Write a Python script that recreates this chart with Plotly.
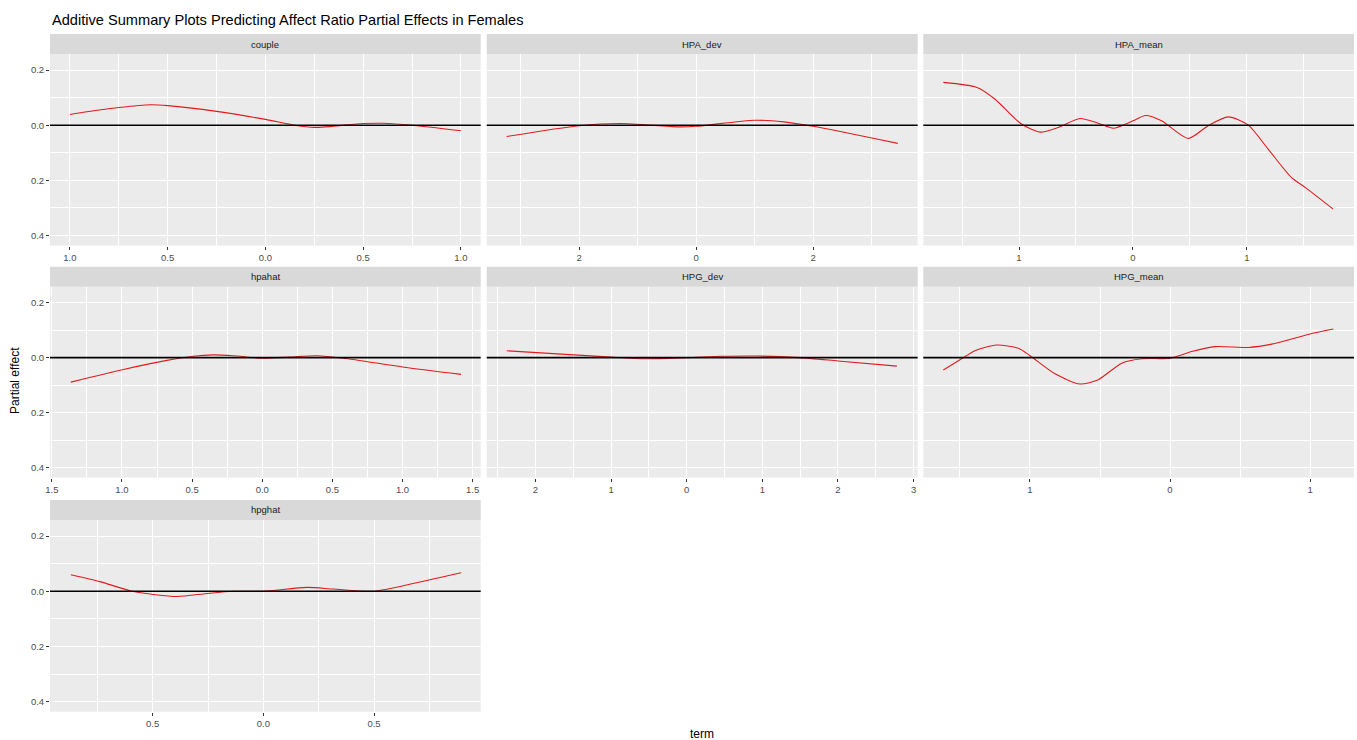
import plotly.graph_objects as go

# ---- data: estimated partial effect curves per term ----
couple_x = [-1.0, -0.85, -0.75, -0.59, -0.5, -0.25, 0.0, 0.15, 0.25, 0.5, 0.6, 0.75, 1.0]
couple_y = [0.039, 0.055, 0.064, 0.074, 0.071, 0.050, 0.021, 0.0, -0.008, 0.006, 0.007, 0.0, -0.020]

hpa_dev_x = [-3.24, -2.0, -1.3, -0.3, 0.0, 1.0, 1.5, 2.0, 3.45]
hpa_dev_y = [-0.041, -0.002, 0.006, -0.006, -0.004, 0.018, 0.012, -0.004, -0.066]

hpa_mean_x = [-1.664, -1.363, -1.21, -0.985, -0.816, -0.655, -0.465, -0.304, -0.172, 0.0,
              0.111, 0.251, 0.485, 0.66, 0.836, 1.01, 1.187, 1.39, 1.52, 1.757]
hpa_mean_y = [0.155, 0.136, 0.094, 0.006, -0.025, -0.008, 0.024, 0.007, -0.011, 0.016,
              0.035, 0.016, -0.048, -0.002, 0.030, 0.001, -0.087, -0.189, -0.228, -0.304]

hpahat_x = [-1.365, -0.99, -0.68, -0.494, -0.35, -0.206, 0.0, 0.197, 0.387, 0.58, 1.0, 1.417]
hpahat_y = [-0.089, -0.043, -0.010, 0.005, 0.010, 0.007, -0.002, 0.002, 0.007, -0.002, -0.034, -0.061]

hpg_dev_x = [-2.38, -1.0, -0.54, 0.0, 0.48, 0.92, 1.49, 2.0, 2.78]
hpg_dev_y = [0.025, 0.002, -0.004, 0.0, 0.005, 0.006, 0.0, -0.012, -0.031]

hpg_mean_x = [-1.619, -1.5, -1.393, -1.238, -1.083, -1.0, -0.821, -0.643, -0.512, -0.345, -0.202,
              0.0, 0.155, 0.321, 0.56, 0.726, 1.0, 1.167]
hpg_mean_y = [-0.045, -0.008, 0.025, 0.046, 0.034, 0.007, -0.059, -0.096, -0.080, -0.020, -0.004,
              -0.002, 0.022, 0.040, 0.037, 0.049, 0.086, 0.104]

hpghat_x = [-0.870, -0.738, -0.587, -0.391, -0.256, -0.136, 0.0, 0.196, 0.316, 0.497, 0.693, 0.894]
hpghat_y = [0.060, 0.035, -0.001, -0.019, -0.008, 0.0, 0.0, 0.014, 0.008, 0.0, 0.031, 0.067]

# tick labels as printed on each facet
couple_ticks = [-1.0, -0.5, 0.0, 0.5, 1.0]
couple_labels = ["1.0", "0.5", "0.0", "0.5", "1.0"]
hpa_dev_ticks = [-2, 0, 2]
hpa_dev_labels = ["2", "0", "2"]
hpa_mean_ticks = [-1, 0, 1]
hpa_mean_labels = ["1", "0", "1"]
hpahat_ticks = [-1.5, -1.0, -0.5, 0.0, 0.5, 1.0, 1.5]
hpahat_labels = ["1.5", "1.0", "0.5", "0.0", "0.5", "1.0", "1.5"]
hpg_dev_ticks = [-2, -1, 0, 1, 2, 3]
hpg_dev_labels = ["2", "1", "0", "1", "2", "3"]
hpg_mean_ticks = [-1, 0, 1]
hpg_mean_labels = ["1", "0", "1"]
hpghat_ticks = [-0.5, 0.0, 0.5]
hpghat_labels = ["0.5", "0.0", "0.5"]

y_ticks = [-0.4, -0.2, 0.0, 0.2]
y_labels = ["0.4", "0.2", "0.0", "0.2"]
y_minor = [-0.3, -0.1, 0.1]

W, H = 1357, 740

facets = [
    dict(name="couple", x=couple_x, y=couple_y, tv=couple_ticks, tt=couple_labels,
         minor=[-0.75, -0.25, 0.25, 0.75], rng=[-1.102, 1.101], col=0, row=0),
    dict(name="HPA_dev", x=hpa_dev_x, y=hpa_dev_y, tv=hpa_dev_ticks, tt=hpa_dev_labels,
         minor=[-3, -1, 1, 3], rng=[-3.58, 3.79], col=1, row=0),
    dict(name="HPA_mean", x=hpa_mean_x, y=hpa_mean_y, tv=hpa_mean_ticks, tt=hpa_mean_labels,
         minor=[-1.5, -0.5, 0.5, 1.5], rng=[-1.84, 1.94], col=2, row=0),
    dict(name="hpahat", x=hpahat_x, y=hpahat_y, tv=hpahat_ticks, tt=hpahat_labels,
         minor=[-1.25, -0.75, -0.25, 0.25, 0.75, 1.25], rng=[-1.513, 1.557], col=0, row=1),
    dict(name="HPG_dev", x=hpg_dev_x, y=hpg_dev_y, tv=hpg_dev_ticks, tt=hpg_dev_labels,
         minor=[-2.5, -1.5, -0.5, 0.5, 1.5, 2.5], rng=[-2.645, 3.055], col=1, row=1),
    dict(name="HPG_mean", x=hpg_mean_x, y=hpg_mean_y, tv=hpg_mean_ticks, tt=hpg_mean_labels,
         minor=[-1.5, -0.5, 0.5], rng=[-1.762, 1.314], col=2, row=1),
    dict(name="hpghat", x=hpghat_x, y=hpghat_y, tv=hpghat_ticks, tt=hpghat_labels,
         minor=[-0.75, -0.25, 0.25, 0.75], rng=[-0.964, 0.982], col=0, row=2),
]

# panel geometry in pixels
col_px = [(50, 480.7), (486.7, 917.7), (923.3, 1354)]
row_px = [(54, 245.5), (286.7, 477.5), (520, 711.7)]  # panel area below strip
STRIP_H = 20

FONT = "Liberation Sans, Arial, Helvetica, sans-serif"
PANEL_BG = "#EBEBEB"
STRIP_BG = "#D9D9D9"

def px_x(v):
    return v / W

def px_y(v):
    return 1 - v / H

fig = go.Figure()
layout = dict(
    width=W, height=H,
    margin=dict(l=0, r=0, t=0, b=0, pad=0),
    paper_bgcolor="white", plot_bgcolor=PANEL_BG,
    showlegend=False,
    font=dict(family=FONT, color="#4D4D4D"),
)
shapes = []
annotations = []

for i, f in enumerate(facets):
    n = i + 1
    xa = "x" if n == 1 else f"x{n}"
    ya = "y" if n == 1 else f"y{n}"
    xkey = "xaxis" if n == 1 else f"xaxis{n}"
    ykey = "yaxis" if n == 1 else f"yaxis{n}"
    x0, x1 = col_px[f["col"]]
    y0, y1 = row_px[f["row"]]

    fig.add_trace(go.Scatter(
        x=f["x"], y=f["y"], mode="lines", xaxis=xa, yaxis=ya,
        line=dict(color="#E31A1C", width=1.1, shape="spline", smoothing=0.7),
        hoverinfo="skip",
    ))

    layout[xkey] = dict(
        domain=[px_x(x0), px_x(x1)], anchor=ya, range=f["rng"], automargin=False,
        tickmode="array", tickvals=f["tv"], ticktext=f["tt"],
        ticks="outside", ticklen=3, tickwidth=1.1, tickcolor="#333333",
        tickfont=dict(size=9.5, color="#4D4D4D", family=FONT),
        showgrid=True, gridcolor="white", gridwidth=1.3,
        minor=dict(tickmode="array", tickvals=f["minor"], showgrid=True,
                   gridcolor="white", gridwidth=0.6, ticks=""),
        zeroline=False, showline=False, fixedrange=True,
    )
    left = f["col"] == 0
    layout[ykey] = dict(
        domain=[px_y(y1), px_y(y0)], anchor=xa, range=[-0.436, 0.258], automargin=False,
        tickmode="array", tickvals=y_ticks, ticktext=y_labels,
        ticks="outside" if left else "", ticklen=3, tickwidth=1.1, tickcolor="#333333",
        showticklabels=left,
        tickfont=dict(size=9.5, color="#4D4D4D", family=FONT),
        showgrid=True, gridcolor="white", gridwidth=1.3,
        minor=dict(tickmode="array", tickvals=y_minor, showgrid=True,
                   gridcolor="white", gridwidth=0.6, ticks=""),
        zeroline=False, showline=False, fixedrange=True,
    )

    # reference line at zero across the panel
    shapes.append(dict(type="line", xref=f"{xa} domain", yref=ya,
                       x0=0, x1=1, y0=0, y1=0,
                       line=dict(color="black", width=1.6), layer="above"))

    # facet strip
    shapes.append(dict(type="rect", xref="paper", yref="paper",
                       x0=px_x(x0), x1=px_x(x1),
                       y0=px_y(y0), y1=px_y(y0 - STRIP_H),
                       fillcolor=STRIP_BG, line=dict(width=0), layer="below"))
    annotations.append(dict(text=f["name"], xref="paper", yref="paper",
                            x=px_x((x0 + x1) / 2), y=px_y(y0 - STRIP_H / 2),
                            xanchor="center", yanchor="middle", showarrow=False,
                            font=dict(size=9.5, color="#1A1A1A", family=FONT)))

# titles
annotations.append(dict(text="Additive Summary Plots Predicting Affect Ratio Partial Effects in Females",
                        xref="paper", yref="paper", x=px_x(50), y=px_y(20),
                        xanchor="left", yanchor="middle", showarrow=False,
                        font=dict(size=14.6, color="black", family=FONT)))
annotations.append(dict(text="Partial effect", xref="paper", yref="paper",
                        x=px_x(15), y=px_y(381), textangle=-90,
                        xanchor="center", yanchor="middle", showarrow=False,
                        font=dict(size=12, color="black", family=FONT)))
annotations.append(dict(text="term", xref="paper", yref="paper",
                        x=px_x(702), y=px_y(734),
                        xanchor="center", yanchor="middle", showarrow=False,
                        font=dict(size=12, color="black", family=FONT)))

layout["shapes"] = shapes
layout["annotations"] = annotations
fig.update_layout(**layout)
fig.write_html("out.html", config={"displayModeBar": False})
